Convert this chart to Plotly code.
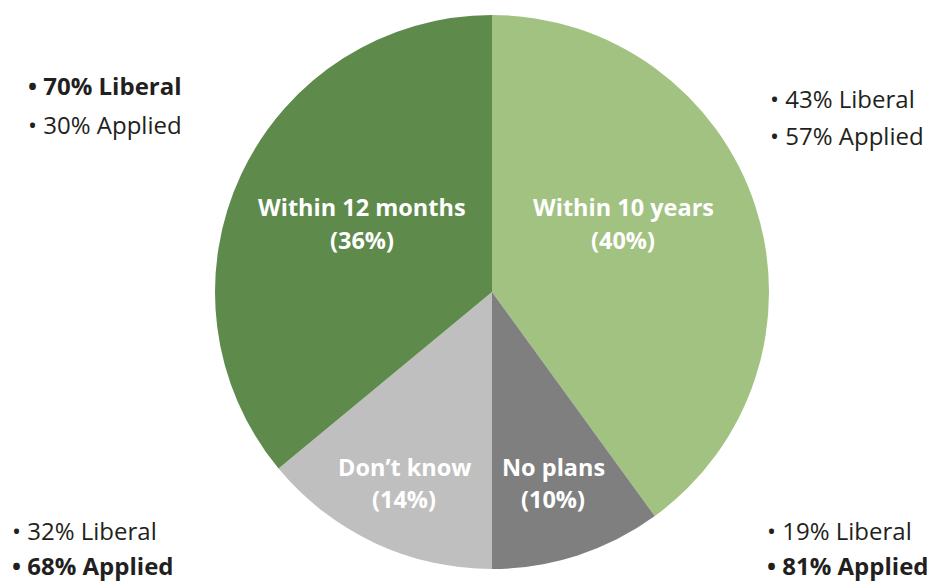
import plotly.graph_objects as go

# Data
categories = ["Within 10 years", "No plans", "Don\u2019t know", "Within 12 months"]
shares = [40, 10, 14, 36]
colors = ["#a2c281", "#7f7f7f", "#bfbfbf", "#5e8a4c"]
liberal = [43, 19, 32, 70]
applied = [57, 81, 68, 30]
bold_item = ["none", "applied", "applied", "liberal"]

OFF = 8  # default page body margin
W, H = 935 - OFF, 581 - OFF
cx, cy, r = 492 - OFF, 292 - OFF, 277

fig = go.Figure(go.Pie(
    labels=categories, values=shares, sort=False, direction="clockwise",
    rotation=0, marker=dict(colors=colors, line=dict(width=0)),
    textinfo="none", hoverinfo="label+percent", showlegend=False,
    domain=dict(x=[(cx - r) / W, (cx + r) / W], y=[max(0, 1 - (cy + r) / H), 1 - (cy - r) / H]),
))

FONT = "Open Sans"
TXT = "#231f20"

def px(x, y):
    return (x - OFF) / W, 1 - (y - OFF) / H

# In-slice labels: (center x, y of line 1, y of line 2)
inner_pos = {
    "Within 10 years": (623, 207, 240),
    "No plans": (553, 467, 499),
    "Don\u2019t know": (404, 467, 499),
    "Within 12 months": (362, 207, 240),
}
annotations = []
for cat, s in zip(categories, shares):
    x0, y1, y2 = inner_pos[cat]
    for t, yy in ((f"<b>{cat}</b>", y1), (f"<b>({s}%)</b>", y2)):
        x, y = px(x0, yy)
        annotations.append(dict(
            x=x, y=y, xref="paper", yref="paper", showarrow=False,
            text=t, align="center",
            font=dict(family=FONT, size=23.5, color="white"),
            xanchor="center", yanchor="middle",
        ))

# Side breakdown labels (left edge x, y of first line, y of second line)
side_pos = {
    "Within 10 years": (768, 98, 136),
    "No plans": (765, 530, 565),
    "Don\u2019t know": (10, 530, 565),
    "Within 12 months": (26, 85, 124),
}
for cat, lib, app, b in zip(categories, liberal, applied, bold_item):
    x0, y1, y2 = side_pos[cat]
    t1 = f"\u2022 {lib}% Liberal"
    t2 = f"\u2022 {app}% Applied"
    if b == "liberal":
        t1 = f"<b>{t1}</b>"
    if b == "applied":
        t2 = f"<b>{t2}</b>"
    for t, yy in ((t1, y1), (t2, y2)):
        x, y = px(x0, yy)
        annotations.append(dict(
            x=x, y=y, xref="paper", yref="paper", showarrow=False,
            text=t, font=dict(family=FONT, size=24, color=TXT),
            xanchor="left", yanchor="middle",
        ))

fig.update_layout(
    width=W, height=H, margin=dict(l=0, r=0, t=0, b=0),
    paper_bgcolor="white", plot_bgcolor="white",
    annotations=annotations,
)

fig.write_html("out.html")
